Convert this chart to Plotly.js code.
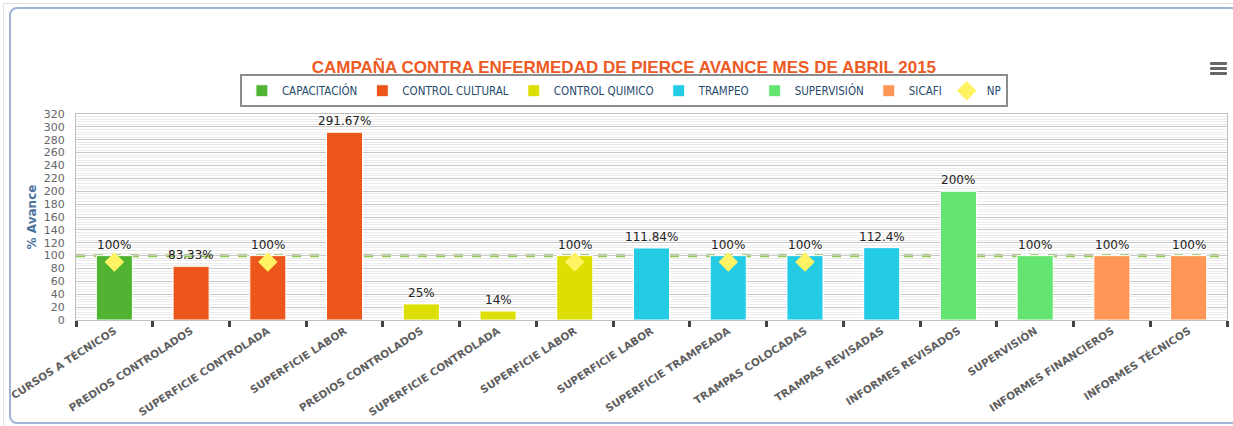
<!DOCTYPE html>
<html>
<head>
<meta charset="utf-8">
<script src="https://cdn.plot.ly/plotly-3.0.1.min.js"></script>
<style>
  html, body { margin: 0; padding: 0; background: #fff; }
  #wrap { position: relative; width: 1233px; height: 426px; overflow: hidden; }
  #chart { position: absolute; left: 0; top: 0; width: 1233px; height: 426px; }
  #outer { position: absolute; left: 3px; top: 3px; width: 1240px; height: 430px; border: 1px solid #e2e2e2; pointer-events: none; }
  #frame { position: absolute; left: 9px; top: 7px; width: 1226px; height: 413px; border: 2px solid #9fb4d6; border-radius: 8px; pointer-events: none; }
  #menu { position: absolute; left: 1210px; top: 62px; width: 17px; pointer-events: none; }
  #menu div { height: 3px; background: #666; border-radius: 1px; margin-bottom: 2px; }
</style>
</head>
<body>
<div id="wrap">
  <div id="chart"></div>
  <div id="outer"></div>
  <div id="frame"></div>
  <div id="menu"><div></div><div></div><div></div></div>
</div>
<script>
// ---- data ----
const tickLabels = [
  "CURSOS A TÉCNICOS", "PREDIOS CONTROLADOS", "SUPERFICIE CONTROLADA", "SUPERFICIE LABOR",
  "PREDIOS CONTROLADOS", "SUPERFICIE CONTROLADA", "SUPERFICIE LABOR", "SUPERFICIE LABOR",
  "SUPERFICIE TRAMPEADA", "TRAMPAS COLOCADAS", "TRAMPAS REVISADAS", "INFORMES REVISADOS",
  "SUPERVISIÓN", "INFORMES FINANCIEROS", "INFORMES TÉCNICOS"
];
const barSeries = [
  "CAPACITACIÓN", "CONTROL CULTURAL", "CONTROL CULTURAL", "CONTROL CULTURAL",
  "CONTROL QUIMICO", "CONTROL QUIMICO", "CONTROL QUIMICO", "TRAMPEO",
  "TRAMPEO", "TRAMPEO", "TRAMPEO", "SUPERVISIÓN",
  "SUPERVISIÓN", "SICAFI", "SICAFI"
];
const barValues = [100, 83.33, 100, 291.67, 25, 14, 100, 111.84, 100, 100, 112.4, 200, 100, 100, 100];
const npValues = [90, null, 90, null, null, null, 90, null, 90, 90, null, null, null, null, null];
const seriesNames = ["CAPACITACIÓN", "CONTROL CULTURAL", "CONTROL QUIMICO", "TRAMPEO", "SUPERVISIÓN", "SICAFI"];
const seriesColors = ["#50B432", "#ED561B", "#DDDF00", "#24CBE5", "#64E572", "#FF9655"];
const npColor = "#FFF263";
const goal = 100;

// ---- traces ----
const xIdx = tickLabels.map((_, i) => i);
const traces = seriesNames.map((name, s) => {
  const xs = [], ys = [];
  barSeries.forEach((sn, i) => { if (sn === name) { xs.push(i); ys.push(barValues[i]); } });
  return {
    type: "bar", name: name, x: xs, y: ys, width: 0.47,
    marker: { color: seriesColors[s], line: { color: "#ffffff", width: 1 } },
    hoverinfo: "x+y"
  };
});
traces.push({
  type: "scatter", mode: "markers", name: "NP",
  x: xIdx, y: npValues,
  marker: { symbol: "diamond", size: 15, color: npColor, line: { width: 0 } }
});

const annotations = barValues.map((v, i) => ({
  x: i, y: v, xref: "x", yref: "y",
  text: v + "%", showarrow: false, yanchor: "bottom", yshift: 2,
  font: { family: "DejaVu Sans, Verdana, sans-serif", size: 12, color: "#222" }
}));

const layout = {
  width: 1233, height: 426,
  margin: { l: 76, r: 6, t: 114, b: 106 },
  paper_bgcolor: "rgba(0,0,0,0)",
  plot_bgcolor: "#ffffff",
  barmode: "overlay",
  showlegend: true,
  title: {
    text: "CAMPAÑA CONTRA ENFERMEDAD DE PIERCE AVANCE MES DE ABRIL 2015",
    x: 0.506, xref: "container", xanchor: "center",
    y: 0.843, yref: "container", yanchor: "middle",
    font: { family: "Liberation Sans, Arial, sans-serif", size: 17, color: "#EE5A24", weight: "bold" }
  },
  legend: {
    orientation: "h", xref: "container", x: 0.506, xanchor: "center",
    yref: "container", y: 0.787, yanchor: "middle",
    bordercolor: "#8c8c8c", borderwidth: 2, bgcolor: "#ffffff",
    font: { family: "DejaVu Sans Condensed, DejaVu Sans, sans-serif", size: 11.5, color: "#274b6d" },
    itemwidth: 30, traceorder: "normal"
  },
  xaxis: {
    range: [-0.5, 14.5],
    tickmode: "array", tickvals: xIdx, ticktext: tickLabels,
    tickangle: -33, ticks: "",
    tickfont: { family: "DejaVu Sans, Verdana, sans-serif", size: 10.5, color: "#5f5f5f", weight: "bold" },
    showgrid: false, zeroline: false,
    showline: true, linecolor: "#c0c0c0", linewidth: 1, mirror: true,
    minor: { tickmode: "linear", tick0: -0.5, dtick: 1, ticks: "outside", ticklen: 6, tickwidth: 3, tickcolor: "#444", showgrid: false }
  },
  yaxis: {
    range: [0, 320], dtick: 20, tick0: 0,
    tickfont: { family: "DejaVu Sans, Verdana, sans-serif", size: 11, color: "#666" },
    ticks: "outside", ticklen: 8, tickcolor: "rgba(0,0,0,0)",
    gridcolor: "#c8c8c8", gridwidth: 1,
    zeroline: false,
    showline: true, linecolor: "#c0c0c0", linewidth: 1, mirror: true,
    minor: { dtick: 4, showgrid: true, gridcolor: "#ececec", gridwidth: 1 },
    title: {
      text: "% Avance", standoff: 4,
      font: { family: "DejaVu Sans, Verdana, sans-serif", size: 12, color: "#4d759e", weight: "bold" }
    }
  },
  shapes: [{
    type: "line", xref: "paper", yref: "y", x0: 0, x1: 1, y0: goal, y1: goal,
    layer: "between", line: { color: "#92C854", width: 3, dash: "dash" }
  }],
  annotations: annotations
};

Plotly.newPlot("chart", traces, layout, { displayModeBar: false, staticPlot: false });
</script>
</body>
</html>
